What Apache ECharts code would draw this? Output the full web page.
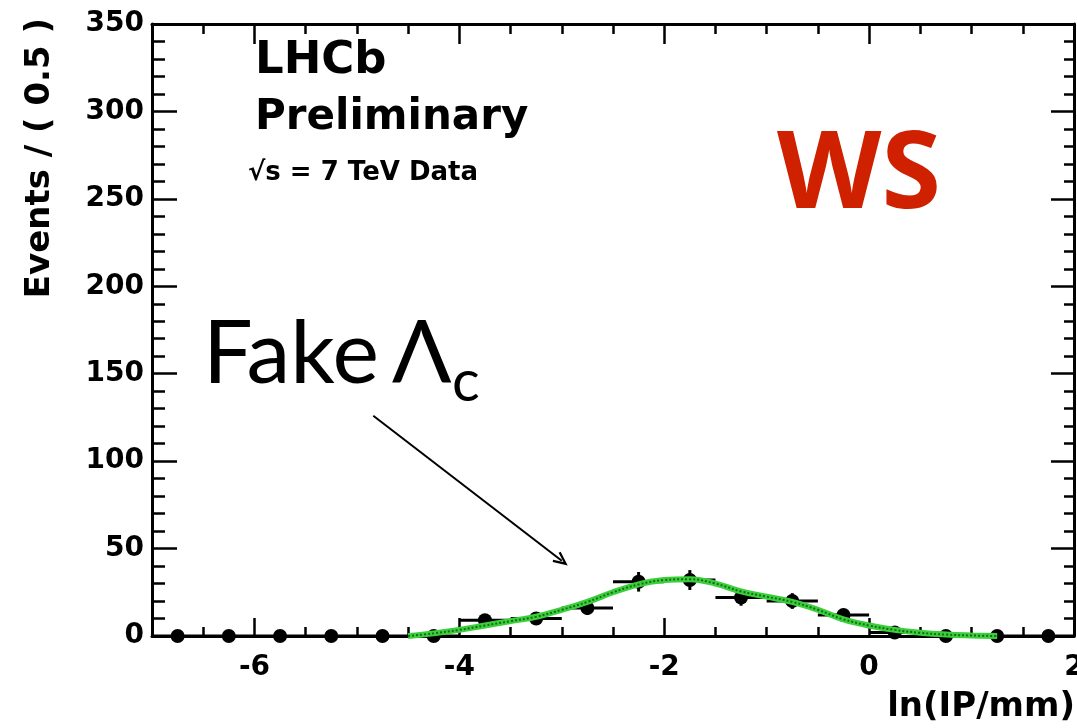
<!DOCTYPE html>
<html>
<head>
<meta charset="utf-8">
<script src="https://cdn.jsdelivr.net/npm/echarts@6/dist/echarts.min.js"></script>
<style>
html,body{margin:0;padding:0;background:#fff;}
#chart{width:1077px;height:728px;}
</style>
</head>
<body>
<div id="chart"></div>
<script>
// Data points (bin centres, width 0.5)
var binX = [-6.75,-6.25,-5.75,-5.25,-4.75,-4.25,-3.75,-3.25,-2.75,-2.25,-1.75,-1.25,-0.75,-0.25,0.25,0.75,1.25,1.75];
var binY = [0,0,0,0,0,0,9,10,16,31,32,22,20,12,2,0,0,0];
var binErr = [0,0,0,0,0,0,3,3.2,4,5.6,5.7,4.7,4.5,3.5,1.4,0,0,0];
// Fit curve
var fitX = [-4.5,-4.25,-4,-3.75,-3.5,-3.25,-3,-2.75,-2.5,-2.25,-2,-1.75,-1.5,-1.25,-1,-0.75,-0.5,-0.25,0,0.25,0.5,0.75,1,1.25];
var fitY = [0,1.5,3.5,6,8.5,11,15,19.5,25,29.5,32,32.5,30,25.5,22.5,19.5,15,9.5,6,3.5,1.8,0.8,0.3,0];
// Tick labels
var xMajor = [-6,-4,-2,0,2];
var yMajor = [0,50,100,150,200,250,300,350];

var chart = echarts.init(document.getElementById('chart'), null, {renderer:'canvas'});
var F = 'DejaVu Sans';
var pts = binX.map(function(x,i){return [x, binY[i], binErr[i]];});
var fit = fitX.map(function(x,i){return [x, fitY[i]];});

function xa(pos, major, len, labels){
  var a = {type:'value', min:-7, max:2, position:pos, interval:0.5,
    axisLine:{show:!major, onZero:false, lineStyle:{color:'#000', width:3}},
    axisTick:{show:true, inside:true, length:len, lineStyle:{color:'#000', width:2.5}},
    splitLine:{show:false},
    axisLabel:{show:false}};
  if (major) a.axisTick.customValues = xMajor;
  if (labels) a.axisLabel = {show:true, customValues:xMajor, margin:18, color:'#000', fontFamily:F, fontWeight:'bold', fontSize:28};
  return a;
}
function ya(pos, major, len, labels){
  var a = {type:'value', min:0, max:350, position:pos, interval:10,
    axisLine:{show:!major, onZero:false, lineStyle:{color:'#000', width:3}},
    axisTick:{show:true, inside:true, length:len, lineStyle:{color:'#000', width:2.5}},
    splitLine:{show:false},
    axisLabel:{show:false}};
  if (major) a.axisTick.customValues = yMajor;
  if (labels) a.axisLabel = {show:true, customValues:yMajor, margin:8, color:'#000', fontFamily:F, fontWeight:'bold', fontSize:28};
  return a;
}

var option = {
  animation:false,
  backgroundColor:'#fff',
  grid:{left:152, right:3, top:24, bottom:92, containLabel:false, outerBoundsMode:'none'},
  xAxis:[xa('bottom',false,9,true), xa('bottom',true,18,false), xa('top',false,10,false), xa('top',true,20,false)],
  yAxis:[ya('left',false,13,true), ya('left',true,25,false), ya('right',false,10,false), ya('right',true,23,false)],
  series:[
    {type:'custom', xAxisIndex:0, yAxisIndex:0, data:pts, z:3,
     renderItem:function(params, api){
       var x=api.value(0), y=api.value(1), e=api.value(2);
       var l=api.coord([x-0.25,y]), r=api.coord([x+0.25,y]);
       var b=api.coord([x,y-e]), t=api.coord([x,y+e]);
       var st={stroke:'#000', lineWidth:3};
       return {type:'group', children:[
         {type:'line', shape:{x1:l[0],y1:l[1],x2:r[0],y2:r[1]}, style:st},
         {type:'line', shape:{x1:b[0],y1:b[1],x2:t[0],y2:t[1]}, style:st}
       ]};
     }},
    {type:'scatter', xAxisIndex:0, yAxisIndex:0, data:pts.map(function(p){return [p[0],p[1]];}),
     symbol:'circle', symbolSize:14, itemStyle:{color:'#000', opacity:1}, z:4,
     markLine:{silent:true, symbol:['none','path://M0,0 L-6,13 L-4.2,14 L0,5 L4.2,14 L6,13 Z'], symbolSize:[13,15],
       lineStyle:{color:'#000', width:2, type:'solid', opacity:1}, label:{show:false},
       data:[[{coord:[-4.84,126]},{coord:[-3.0,43]}]]}},
    {type:'line', xAxisIndex:0, yAxisIndex:0, data:fit, smooth:0.4, showSymbol:false, z:5,
     lineStyle:{color:'#3ccf3c', width:6}},
    {type:'line', xAxisIndex:0, yAxisIndex:0, data:fit, smooth:0.4, showSymbol:false, z:6,
     lineStyle:{color:'#146b14', width:2, type:'dotted'}}
  ],
  graphic:[
    {type:'text', x:40, y:18, rotation:Math.PI/2, style:{text:'Events / ( 0.5 )', font:'bold 34px "DejaVu Sans"', fill:'#000', align:'right', verticalAlign:'middle'}},
    {type:'text', x:1075, y:707, style:{text:'ln(IP/mm)', font:'bold 34px "DejaVu Sans"', fill:'#000', align:'right', verticalAlign:'middle'}},
    {type:'text', x:255, y:61, style:{text:'LHCb', font:'bold 45px "DejaVu Sans"', fill:'#000', align:'left', verticalAlign:'middle'}},
    {type:'text', x:255, y:118, style:{text:'Preliminary', font:'bold 42px "DejaVu Sans"', fill:'#000', align:'left', verticalAlign:'middle'}},
    {type:'text', x:248, y:173, style:{text:'√s = 7 TeV Data', font:'bold 26px "DejaVu Sans"', fill:'#000', align:'left', verticalAlign:'middle'}},
    {type:'text', x:777, y:177, style:{text:'WS', font:'bold 108px "Noto Sans"', fill:'#cf2100', align:'left', verticalAlign:'middle'}},
    {type:'text', x:203, y:355, style:{text:'Fake', font:'88px "Lato"', fill:'#000', align:'left', verticalAlign:'middle'}},
    {type:'text', x:392, y:355, style:{text:'Λ', font:'88px "Lato"', fill:'#000', align:'left', verticalAlign:'middle'}},
    {type:'text', x:452, y:382, style:{text:'c', font:'58px "Lato"', fill:'#000', align:'left', verticalAlign:'middle'}}
  ]
};
chart.setOption(option);
</script>
</body>
</html>
